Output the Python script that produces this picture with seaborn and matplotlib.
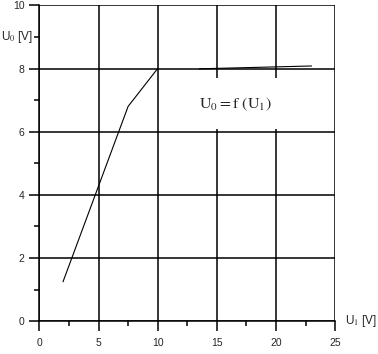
import matplotlib
matplotlib.use("Agg")
import matplotlib.pyplot as plt
import seaborn as sns
import pandas as pd
from matplotlib.ticker import MultipleLocator

# Data
u1_rise = [2.0, 7.5, 10.0]
u0_rise = [1.25, 6.8, 8.0]
u1_flat = [13.5, 23.0]
u0_flat = [7.99, 8.08]

x_ticks = [0, 5, 10, 15, 20, 25]
y_ticks = [0, 2, 4, 6, 8, 10]

sns.set_style("white")
plt.rcParams['font.family'] = ['Liberation Sans', 'DejaVu Sans']
plt.rcParams['mathtext.fontset'] = 'stix'

fig = plt.figure(figsize=(3.78, 3.54), dpi=100)
ax = fig.add_axes([0.104, 0.0924, 0.783, 0.8926])

df1 = pd.DataFrame({"U1": u1_rise, "U0": u0_rise})
df2 = pd.DataFrame({"U1": u1_flat, "U0": u0_flat})
sns.lineplot(data=df1, x="U1", y="U0", ax=ax, color="black", linewidth=0.8,
             zorder=5, sort=False)
sns.lineplot(data=df2, x="U1", y="U0", ax=ax, color="black", linewidth=0.8,
             zorder=5, sort=False)

ax.set_xlim(0, 25)
ax.set_ylim(0, 10)
ax.set_xticks(x_ticks)
ax.set_yticks(y_ticks)
ax.set_xticklabels([str(v) for v in x_ticks])
ax.set_yticklabels([str(v) for v in y_ticks])
ax.xaxis.set_minor_locator(MultipleLocator(2.5))
ax.yaxis.set_minor_locator(MultipleLocator(1))
ax.set_xlabel("")
ax.set_ylabel("")

ax.grid(True, which="major", color="black", linewidth=1.1)
ax.set_axisbelow(True)
for s in ["top", "right"]:
    ax.spines[s].set_visible(False)
for s in ["left", "bottom"]:
    ax.spines[s].set_color("black")
    ax.spines[s].set_linewidth(1.1)

ax.tick_params(which="major", length=7.5, width=1.1, color="black",
               labelsize=7.5, pad=3)
ax.tick_params(which="minor", length=3.8, width=1.1, color="black")
ax.tick_params(axis="x", which="both", bottom=True, direction="out")
ax.tick_params(axis="y", which="both", left=True, direction="out")
ax.tick_params(axis="x", which="major", pad=4.5)

# axis titles
ax.text(-0.5, 9.0, "U$_0$ [V]", ha="right", va="center", fontsize=8.5,
        clip_on=False)
ax.text(25.8, 0.0, "U$_1$ [V]", ha="left", va="center", fontsize=8.5,
        clip_on=False)

# formula with white box hiding grid lines
ax.text(16.6, 6.88, r"$\mathrm{U_0 = f\ (U_1)}$", ha="center", va="center",
        fontsize=11.5, zorder=4,
        bbox=dict(boxstyle="square,pad=1.05", facecolor="white",
                  edgecolor="none"))

fig.savefig("out.png", dpi=100)
